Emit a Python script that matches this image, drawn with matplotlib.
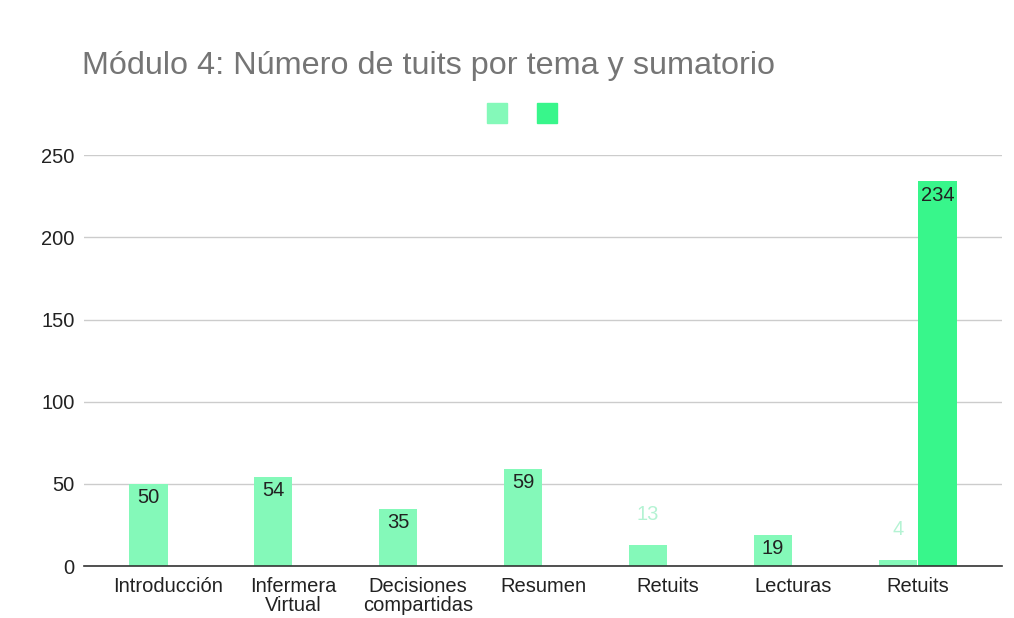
import matplotlib.pyplot as plt
import numpy as np

plt.rcParams['font.family'] = ['Liberation Sans', 'DejaVu Sans']

categories = ['Introducción', 'Infermera\nVirtual', 'Decisiones\ncompartidas',
              'Resumen', 'Retuits', 'Lecturas', 'Retuits']
tema = [50, 54, 35, 59, 13, 19, 4]
sumatorio = [0, 0, 0, 0, 0, 0, 234]
yticks = [0, 50, 100, 150, 200, 250]

c1 = '#84f9b9'
c2 = '#38f68b'

fig = plt.figure(figsize=(10.14, 6.18), dpi=100)
ax = fig.add_axes([0.083, 0.084, 0.905, 0.665])

x = np.arange(len(categories))
w = 0.31
b1 = ax.bar(x - 0.16, tema, w, color=c1, zorder=3)
b2 = ax.bar(x + 0.16, sumatorio, w, color=c2, zorder=3)

fs = 14.5
for bars, vals in [(b1, tema), (b2, sumatorio)]:
    for rect, v in zip(bars, vals):
        if v == 0:
            continue
        cx = rect.get_x() + rect.get_width() / 2
        if v >= 15:
            ax.annotate(str(v), (cx, v), xytext=(0, -3), textcoords='offset points',
                        ha='center', va='top', fontsize=fs, color='#222222', zorder=4)
        else:
            ax.annotate(str(v), (cx, v), xytext=(0, 15), textcoords='offset points',
                        ha='center', va='bottom', fontsize=fs, color='#b4f3d3', zorder=4)

ax.set_xlim(-0.672, 6.672)
ax.set_ylim(0, 250)
ax.set_yticks(yticks)
ax.set_xticks(x)
ax.set_xticklabels(categories, fontsize=fs, color='#222222', linespacing=1.0)
ax.tick_params(axis='y', labelsize=fs, labelcolor='#222222', length=0, pad=7)
ax.tick_params(axis='x', length=0, pad=8)
ax.grid(axis='y', color='#cccccc', linewidth=1, zorder=0)
for s in ['top', 'right', 'left']:
    ax.spines[s].set_visible(False)
ax.spines['bottom'].set_color('#333333')
ax.spines['bottom'].set_linewidth(1.2)
ax.spines['bottom'].set_zorder(5)

fig.text(0.081, 0.893, 'Módulo 4: Número de tuits por tema y sumatorio',
         fontsize=23.3, color='#757575', ha='left', va='center')

# legend squares without labels
fig.patches.append(plt.Rectangle((487 / 1014, 1 - 123 / 618), 20 / 1014, 20 / 618,
                                 transform=fig.transFigure, color=c1, figure=fig))
fig.patches.append(plt.Rectangle((537 / 1014, 1 - 123 / 618), 20 / 1014, 20 / 618,
                                 transform=fig.transFigure, color=c2, figure=fig))

fig.savefig('out.png', dpi=100)
